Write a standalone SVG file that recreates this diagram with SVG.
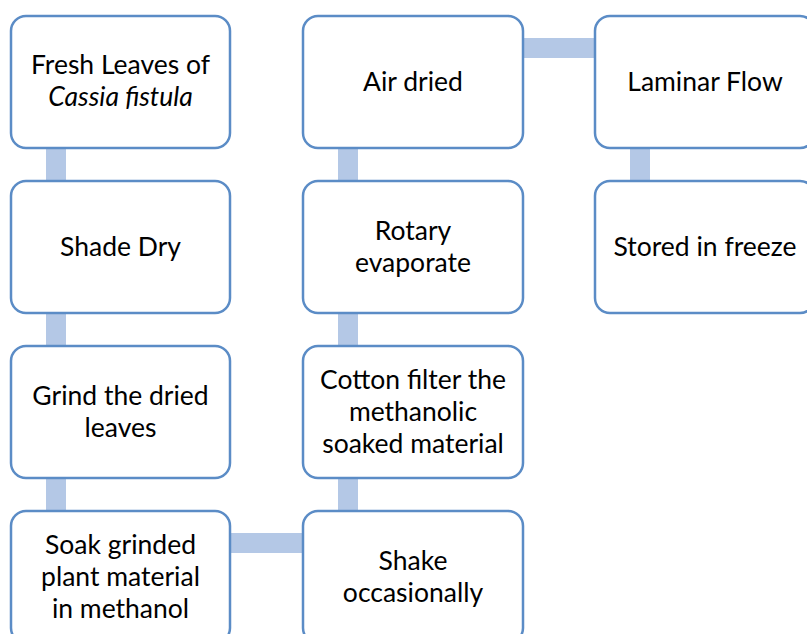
<svg xmlns="http://www.w3.org/2000/svg" width="807" height="634" viewBox="0 0 807 634">
<style>
.box{fill:#fff;stroke:#5B8CC6;stroke-width:2.5}
.conn{fill:#B4C8E6}
text{font-family:Lato,"Liberation Sans",sans-serif;font-size:26.5px;fill:#000;text-anchor:middle}
.it{font-style:italic}
</style>
<rect width="807" height="634" fill="#fff"/>
<g id="connectors">
<rect class="conn" x="46" y="148" width="20" height="33"/>
<rect class="conn" x="46" y="313" width="20" height="33"/>
<rect class="conn" x="46" y="478" width="20" height="33"/>
<rect class="conn" x="230" y="533" width="73" height="20"/>
<rect class="conn" x="338" y="478" width="20" height="33"/>
<rect class="conn" x="338" y="313" width="20" height="33"/>
<rect class="conn" x="338" y="148" width="20" height="33"/>
<rect class="conn" x="523" y="38" width="72" height="20"/>
<rect class="conn" x="630" y="148" width="20" height="33"/>
</g>
<g id="n1"><rect class="box" x="11" y="16" width="219" height="132" rx="15"/><text x="120.5" y="74">Fresh Leaves of</text><text x="120.5" y="106" class="it">Cassia fistula</text></g>
<g id="n2"><rect class="box" x="11" y="181" width="219" height="132" rx="15"/><text x="120.5" y="256">Shade Dry</text></g>
<g id="n3"><rect class="box" x="11" y="346" width="219" height="132" rx="15"/><text x="120.5" y="405">Grind the dried</text><text x="120.5" y="437">leaves</text></g>
<g id="n4"><rect class="box" x="11" y="511" width="219" height="132" rx="15"/><text x="120.5" y="554">Soak grinded</text><text x="120.5" y="586">plant material</text><text x="120.5" y="618">in methanol</text></g>
<g id="n5"><rect class="box" x="303" y="511" width="220" height="132" rx="15"/><text x="413" y="570">Shake</text><text x="413" y="602">occasionally</text></g>
<g id="n6"><rect class="box" x="303" y="346" width="220" height="132" rx="15"/><text x="413" y="389">Cotton filter the</text><text x="413" y="421">methanolic</text><text x="413" y="453">soaked material</text></g>
<g id="n7"><rect class="box" x="303" y="181" width="220" height="132" rx="15"/><text x="413" y="240">Rotary</text><text x="413" y="272">evaporate</text></g>
<g id="n8"><rect class="box" x="303" y="16" width="220" height="132" rx="15"/><text x="413" y="91">Air dried</text></g>
<g id="n9"><rect class="box" x="595" y="16" width="220" height="132" rx="15"/><text x="705" y="91">Laminar Flow</text></g>
<g id="n10"><rect class="box" x="595" y="181" width="220" height="132" rx="15"/><text x="705" y="256">Stored in freeze</text></g>
</svg>
